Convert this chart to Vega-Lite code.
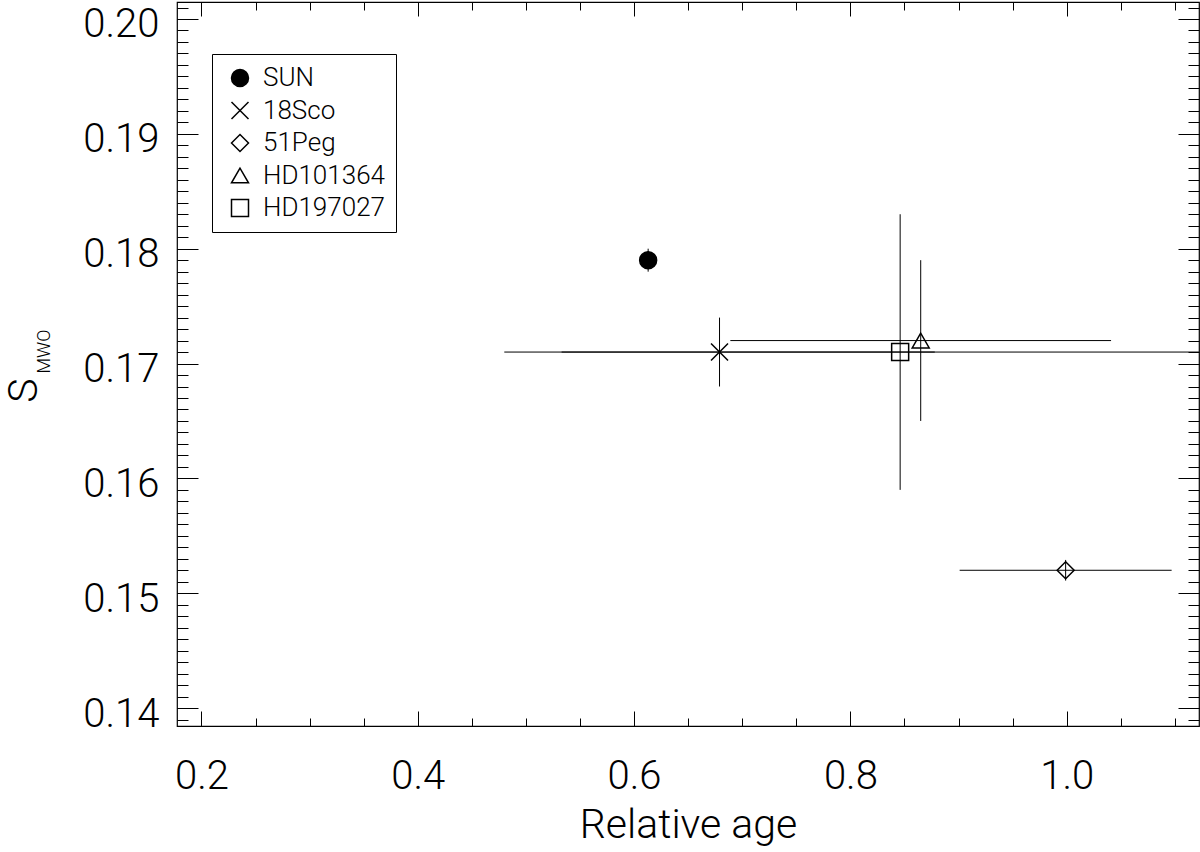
{
  "$schema": "https://vega.github.io/schema/vega-lite/v6.json",
  "width": 1022,
  "height": 724,
  "autosize": {"type": "none"},
  "padding": {"left": 177, "top": 2, "right": 1, "bottom": 126},
  "background": "white",
  "data": {"values": [
    {"star": "SUN", "x": 0.613, "y": 0.179, "xlo": 0.613, "xhi": 0.613, "ylo": 0.178, "yhi": 0.180},
    {"star": "18Sco", "x": 0.679, "y": 0.171, "xlo": 0.480, "xhi": 0.878, "ylo": 0.168, "yhi": 0.174},
    {"star": "51Peg", "x": 0.999, "y": 0.152, "xlo": 0.901, "xhi": 1.097, "ylo": 0.1511, "yhi": 0.1529},
    {"star": "HD101364", "x": 0.865, "y": 0.172, "xlo": 0.689, "xhi": 1.041, "ylo": 0.165, "yhi": 0.179},
    {"star": "HD197027", "x": 0.846, "y": 0.171, "xlo": 0.533, "xhi": 1.159, "ylo": 0.159, "yhi": 0.183}
  ]},
  "resolve": {"axis": {"x": "independent", "y": "independent"}},
  "layer": [
    {
      "mark": {"type": "rule", "clip": true, "color": "black", "strokeWidth": 1},
      "encoding": {
        "x": {"field": "xlo", "type": "quantitative",
          "scale": {"domain": [0.1774, 1.1223], "nice": false, "zero": false},
          "axis": {"orient": "bottom", "values": [0.2, 0.4, 0.6, 0.8, 1.0], "format": ".1f", "ticks": false,
            "labelPadding": 30, "labelFontSize": 40, "title": "Relative age", "titleFontSize": 41,
            "titleBaseline": "alphabetic", "titleY": 111}},
        "x2": {"field": "xhi"},
        "y": {"field": "y", "type": "quantitative",
          "scale": {"domain": [0.13844, 0.20148], "nice": false, "zero": false},
          "axis": {"orient": "left", "values": [0.14, 0.15, 0.16, 0.17, 0.18, 0.19, 0.20], "format": ".2f", "ticks": false,
            "labelPadding": 18, "labelFontSize": 40, "labelBaseline": "middle", "labelOffset": 6,
            "title": "S", "titleFontSize": 41, "titleAngle": 270, "titleX": -153, "titleY": 388,
            "titleAlign": "center", "titleBaseline": "middle"}}
      }
    },
    {
      "mark": {"type": "rule", "clip": true, "color": "black", "strokeWidth": 1},
      "encoding": {
        "x": {"field": "x", "type": "quantitative",
          "axis": {"orient": "bottom", "values": [0.2, 0.4, 0.6, 0.8, 1.0], "labels": false, "tickSize": -15, "title": null}},
        "y": {"field": "ylo", "type": "quantitative",
          "axis": {"orient": "left", "values": [0.14, 0.15, 0.16, 0.17, 0.18, 0.19, 0.20], "labels": false, "tickSize": -21, "title": null}},
        "y2": {"field": "yhi"}
      }
    },
    {
      "mark": {"type": "point", "filled": false, "size": 289, "strokeWidth": 1.5, "opacity": 1},
      "encoding": {
        "x": {"field": "x", "type": "quantitative",
          "axis": {"orient": "bottom", "values": [0.2, 0.25, 0.3, 0.35, 0.4, 0.45, 0.5, 0.55, 0.6, 0.65, 0.7, 0.75, 0.8, 0.85, 0.9, 0.95, 1.0, 1.05, 1.1], "labels": false, "tickSize": -8, "title": null}},
        "y": {"field": "y", "type": "quantitative",
          "axis": {"orient": "left", "values": [0.139, 0.140, 0.141, 0.142, 0.143, 0.144, 0.145, 0.146, 0.147, 0.148, 0.149, 0.150, 0.151, 0.152, 0.153, 0.154, 0.155, 0.156, 0.157, 0.158, 0.159, 0.160, 0.161, 0.162, 0.163, 0.164, 0.165, 0.166, 0.167, 0.168, 0.169, 0.170, 0.171, 0.172, 0.173, 0.174, 0.175, 0.176, 0.177, 0.178, 0.179, 0.180, 0.181, 0.182, 0.183, 0.184, 0.185, 0.186, 0.187, 0.188, 0.189, 0.190, 0.191, 0.192, 0.193, 0.194, 0.195, 0.196, 0.197, 0.198, 0.199, 0.200, 0.201], "labels": false, "tickSize": -11, "title": null}},
        "shape": {"field": "star", "type": "nominal",
          "scale": {"domain": ["SUN", "18Sco", "51Peg", "HD101364", "HD197027"],
            "range": ["circle", "M-1,-1L1,1M-1,1L1,-1", "diamond", "triangle-up", "square"]},
          "legend": {"title": null, "orient": "none", "legendX": 35, "legendY": 52}},
        "fill": {"field": "star", "type": "nominal",
          "scale": {"domain": ["SUN", "18Sco", "51Peg", "HD101364", "HD197027"],
            "range": ["black", "transparent", "transparent", "transparent", "transparent"]},
          "legend": {"title": null, "orient": "none", "legendX": 35, "legendY": 52}},
        "stroke": {"field": "star", "type": "nominal",
          "scale": {"domain": ["SUN", "18Sco", "51Peg", "HD101364", "HD197027"],
            "range": ["black", "black", "black", "black", "black"]},
          "legend": {"title": null, "orient": "none", "legendX": 35, "legendY": 52}}
      }
    },
    {
      "mark": {"type": "point", "opacity": 0},
      "encoding": {
        "x": {"field": "x", "type": "quantitative",
          "axis": {"orient": "top", "values": [0.2, 0.4, 0.6, 0.8, 1.0], "labels": false, "tickSize": -14, "title": null}},
        "y": {"field": "y", "type": "quantitative",
          "axis": {"orient": "right", "values": [0.14, 0.15, 0.16, 0.17, 0.18, 0.19, 0.20], "labels": false, "tickSize": -21, "title": null}}
      }
    },
    {
      "mark": {"type": "point", "opacity": 0},
      "encoding": {
        "x": {"field": "x", "type": "quantitative",
          "axis": {"orient": "top", "values": [0.2, 0.25, 0.3, 0.35, 0.4, 0.45, 0.5, 0.55, 0.6, 0.65, 0.7, 0.75, 0.8, 0.85, 0.9, 0.95, 1.0, 1.05, 1.1], "labels": false, "tickSize": -8, "title": null}},
        "y": {"field": "y", "type": "quantitative",
          "axis": {"orient": "right", "values": [0.139, 0.140, 0.141, 0.142, 0.143, 0.144, 0.145, 0.146, 0.147, 0.148, 0.149, 0.150, 0.151, 0.152, 0.153, 0.154, 0.155, 0.156, 0.157, 0.158, 0.159, 0.160, 0.161, 0.162, 0.163, 0.164, 0.165, 0.166, 0.167, 0.168, 0.169, 0.170, 0.171, 0.172, 0.173, 0.174, 0.175, 0.176, 0.177, 0.178, 0.179, 0.180, 0.181, 0.182, 0.183, 0.184, 0.185, 0.186, 0.187, 0.188, 0.189, 0.190, 0.191, 0.192, 0.193, 0.194, 0.195, 0.196, 0.197, 0.198, 0.199, 0.200, 0.201], "labels": false, "tickSize": -11, "title": null}}
      }
    },
    {
      "mark": {"type": "point", "opacity": 0},
      "encoding": {
        "x": {"field": "x", "type": "quantitative", "axis": null},
        "y": {"field": "y", "type": "quantitative",
          "axis": {"orient": "left", "labels": false, "ticks": false, "title": "MWO", "titleFontSize": 18,
            "titleAngle": 270, "titleX": -133, "titleY": 349, "titleAlign": "center", "titleBaseline": "middle"}}
      }
    }
  ],
  "config": {
    "font": "Roboto",
    "view": {"stroke": "black", "strokeWidth": 1.2},
    "axis": {"grid": false, "domain": false, "labelFont": "Roboto", "titleFont": "Roboto",
      "labelFontWeight": 300, "titleFontWeight": 300, "labelColor": "black", "titleColor": "black", "tickColor": "black", "tickWidth": 1,
      "labelFlush": false, "labelOverlap": false, "labelBound": false},
    "legend": {"strokeColor": "black", "strokeWidth": 1, "padding": 11, "rowPadding": 6.5, "symbolOffset": 4,
      "symbolSize": 289, "symbolStrokeWidth": 1.5, "labelFontSize": 26, "labelOffset": 10,
      "labelFont": "Roboto", "labelFontWeight": 300, "labelColor": "black", "fillColor": "white"}
  }
}
